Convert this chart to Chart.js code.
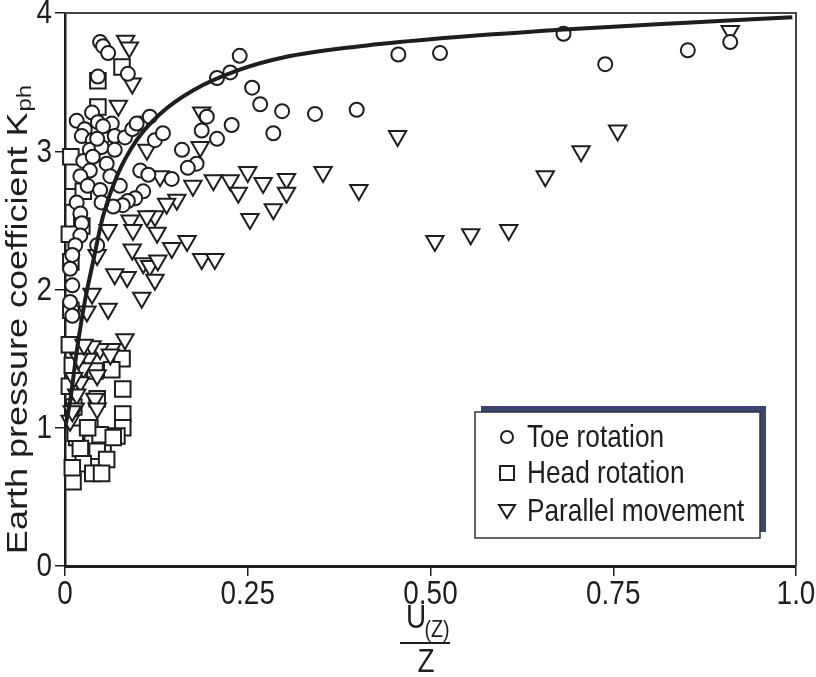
<!DOCTYPE html>
<html>
<head>
<meta charset="utf-8">
<script src="https://cdn.jsdelivr.net/npm/chart.js@4/dist/chart.umd.min.js"></script>
<style>
  html, body { margin: 0; padding: 0; background: #fff; }
</style>
</head>
<body>
<canvas id="chart" width="816" height="677"></canvas>
<script>
// values
const toeX = [0.048, 0.052, 0.059, 0.045, 0.086,
  0.239, 0.226, 0.208, 0.256, 0.267, 0.297, 0.342, 0.399, 0.285, 0.228, 0.208, 0.187, 0.194, 0.160, 0.180, 0.168,
  0.456, 0.513, 0.682, 0.739, 0.852, 0.910,
  0.016, 0.037, 0.027, 0.045, 0.064, 0.023, 0.038, 0.052, 0.068, 0.082, 0.092, 0.103, 0.116, 0.123, 0.134,
  0.034, 0.050, 0.068, 0.025, 0.038, 0.057, 0.034, 0.021, 0.062, 0.103, 0.114, 0.146, 0.031, 0.048, 0.075,
  0.107, 0.096, 0.086, 0.079, 0.016, 0.021, 0.066, 0.050, 0.023, 0.021, 0.014, 0.044, 0.010, 0.007, 0.010,
  0.007, 0.010, 0.052, 0.044, 0.098];
const toeY = [3.79, 3.76, 3.71, 3.54, 3.56,
  3.69, 3.57, 3.53, 3.46, 3.34, 3.29, 3.27, 3.30, 3.13, 3.19, 3.09, 3.15, 3.25, 3.01, 2.91, 2.88,
  3.70, 3.71, 3.85, 3.63, 3.73, 3.79,
  3.22, 3.28, 3.16, 3.21, 3.20, 3.11, 3.08, 3.10, 3.11, 3.10, 3.16, 3.20, 3.25, 3.08, 3.13,
  3.01, 3.03, 3.01, 2.93, 2.96, 2.91, 2.86, 2.82, 2.82, 2.86, 2.83, 2.80, 2.75, 2.72, 2.75,
  2.71, 2.66, 2.64, 2.61, 2.63, 2.55, 2.60, 2.63, 2.48, 2.39, 2.32, 2.32, 2.25, 2.15, 2.03,
  1.91, 1.81, 3.18, 3.09, 3.20];

const headX = [0.078, 0.045, 0.045, 0.008, 0.011, 0.025, 0.023, 0.008, 0.006, 0.008, 0.006,
  0.010, 0.006, 0.012,
  0.078, 0.064, 0.079, 0.079, 0.044, 0.041, 0.079, 0.071, 0.034, 0.048, 0.016, 0.052, 0.066,
  0.021, 0.044, 0.057, 0.025, 0.038, 0.050, 0.011, 0.010, 0.014, 0.031];
const headY = [3.61, 3.51, 3.32, 2.96, 2.67, 2.71, 2.46, 2.20, 2.40, 1.85, 1.60,
  1.45, 1.30, 1.15,
  1.50, 1.42, 1.28, 1.10, 1.21, 1.41, 1.00, 0.94, 1.00, 0.95, 0.93, 0.83, 0.93,
  0.85, 0.83, 0.77, 0.74, 0.67, 0.67, 0.61, 0.71, 0.96, 1.00];

const parX = [0.083, 0.088, 0.092, 0.073,
  0.187, 0.185, 0.203, 0.226, 0.250, 0.237, 0.271, 0.303, 0.303, 0.285, 0.253, 0.353, 0.402, 0.455,
  0.506, 0.555, 0.607, 0.657, 0.706, 0.756, 0.910,
  0.175, 0.187, 0.205, 0.167, 0.146, 0.153, 0.139, 0.130, 0.123, 0.126, 0.112, 0.112, 0.089, 0.093,
  0.092, 0.107, 0.116, 0.127, 0.123, 0.105, 0.085, 0.068, 0.059, 0.059, 0.044, 0.037, 0.030,
  0.082, 0.064, 0.048, 0.037, 0.044, 0.032, 0.025, 0.021, 0.016, 0.014, 0.062, 0.041, 0.044,
  0.007, 0.010, 0.012, 0.019, 0.026];
const parY = [3.80, 3.75, 3.49, 3.33,
  3.28, 3.03, 2.79, 2.79, 2.85, 2.70, 2.77, 2.80, 2.70, 2.58, 2.51, 2.85, 2.72, 3.11,
  2.35, 2.40, 2.43, 2.82, 3.00, 3.15, 3.87,
  2.75, 2.22, 2.22, 2.35, 2.30, 2.65, 2.62, 2.82, 2.53, 2.41, 2.53, 3.01, 2.50, 2.43,
  2.29, 2.19, 2.17, 2.21, 2.07, 1.94, 2.09, 2.11, 2.43, 1.86, 2.25, 1.97, 1.84,
  1.64, 1.57, 1.57, 1.59, 1.38, 1.50, 1.43, 1.33, 1.24, 1.14, 1.53, 1.21, 1.14,
  1.05, 1.12, 1.36, 1.50, 1.60];

const curveX = [0, 0.007, 0.016, 0.027, 0.038, 0.052, 0.071, 0.098, 0.13, 0.175, 0.239, 0.3, 0.404, 0.5, 0.683, 0.85, 0.995];
const curveY = [1.0, 1.19, 1.55, 1.91, 2.19, 2.53, 2.82, 3.08, 3.27, 3.44, 3.59, 3.68, 3.76, 3.81, 3.88, 3.93, 3.97];

const xTicks = [0, 0.25, 0.5, 0.75, 1.0];
const xTickLabels = ['0', '0.25', '0.50', '0.75', '1.0'];
const yTicks = [0, 1, 2, 3, 4];
const yTickLabels = ['0', '1', '2', '3', '4'];

const legendLabels = ['Toe rotation', 'Head rotation', 'Parallel movement'];

const pairs = (xs, ys) => xs.map((x, i) => ({ x, y: ys[i] }));

const INK = '#1e1e1e';
const SANS = '"Liberation Sans", Arial, sans-serif';
const SQUEEZE = 0.82; // the figure's text is horizontally compressed

// draw text squeezed horizontally around (x, y)
function squeezedText(ctx, text, x, y, size, align) {
  ctx.save();
  ctx.translate(x, y);
  ctx.scale(SQUEEZE, 1);
  ctx.font = size + 'px ' + SANS;
  ctx.textAlign = align || 'center';
  ctx.textBaseline = 'middle';
  ctx.fillStyle = INK;
  ctx.fillText(text, 0, 0);
  ctx.restore();
}

function marker(ctx, style, x, y) {
  ctx.save();
  ctx.lineWidth = 2;
  ctx.strokeStyle = INK;
  ctx.fillStyle = '#fff';
  ctx.beginPath();
  if (style === 'circle') {
    ctx.arc(x, y, 6, 0, Math.PI * 2);
  } else if (style === 'rect') {
    ctx.rect(x - 7, y - 7, 14, 14);
  } else {
    ctx.moveTo(x - 8, y - 6);
    ctx.lineTo(x + 8, y - 6);
    ctx.lineTo(x, y + 7);
    ctx.closePath();
  }
  ctx.fill();
  ctx.stroke();
  ctx.restore();
}

const decorPlugin = {
  id: 'decor',
  afterDraw(chart) {
    const ctx = chart.ctx;
    const a = chart.chartArea;
    const xs = chart.scales.x;
    const ys = chart.scales.y;

    // frame top and right
    ctx.save();
    ctx.strokeStyle = '#444';
    ctx.lineWidth = 2;
    ctx.beginPath();
    ctx.moveTo(a.left, a.top);
    ctx.lineTo(a.right, a.top);
    ctx.lineTo(a.right, a.bottom);
    ctx.stroke();
    ctx.restore();

    // tick labels, positioned by the scales
    xTicks.forEach((v, i) => squeezedText(ctx, xTickLabels[i], xs.getPixelForValue(v), a.bottom + 29, 34, 'center'));
    yTicks.forEach((v, i) => squeezedText(ctx, yTickLabels[i], a.left - 13, ys.getPixelForValue(v) + 1, 34, 'right'));

    // legend box with shadow
    ctx.save();
    ctx.fillStyle = '#3b4670';
    ctx.fillRect(481, 406, 285, 126);
    ctx.fillStyle = '#fff';
    ctx.fillRect(475, 412, 285, 126);
    ctx.strokeStyle = '#333';
    ctx.lineWidth = 1.5;
    ctx.strokeRect(475, 412, 285, 126);
    ctx.restore();
    const styles = ['circle', 'rect', 'triangle'];
    const rows = [437, 473, 511];
    legendLabels.forEach((t, i) => {
      marker(ctx, styles[i], 507, rows[i]);
      squeezedText(ctx, t, 527, rows[i] + 1, 32, 'left');
    });

    // y axis title, glyph height squeezed like the rest of the figure
    ctx.save();
    ctx.translate(19, 320);
    ctx.scale(SQUEEZE, 1);
    ctx.rotate(-Math.PI / 2);
    ctx.fillStyle = INK;
    ctx.textBaseline = 'middle';
    ctx.textAlign = 'left';
    const main = 'Earth pressure coefficient K';
    ctx.font = '36px ' + SANS;
    const wMain = ctx.measureText(main).width;
    ctx.font = '24px ' + SANS;
    const wSub = ctx.measureText('ph').width;
    const start = -(wMain + wSub) / 2;
    ctx.font = '36px ' + SANS;
    ctx.fillText(main, start, 0);
    ctx.font = '24px ' + SANS;
    ctx.fillText('ph', start + wMain + 1, 8);
    ctx.restore();

    // x axis title as a fraction
    squeezedText(ctx, 'U', 416, 619, 34, 'center');
    squeezedText(ctx, '(Z)', 437, 630, 24, 'center');
    ctx.save();
    ctx.fillStyle = INK;
    ctx.fillRect(400, 642, 50, 2);
    ctx.restore();
    squeezedText(ctx, 'Z', 426, 663, 34, 'center');
  }
};

new Chart(document.getElementById('chart'), {
  type: 'scatter',
  data: {
    datasets: [
      {
        label: 'curve',
        data: pairs(curveX, curveY),
        showLine: true,
        borderColor: INK,
        borderWidth: 4,
        pointRadius: 0,
        cubicInterpolationMode: 'monotone',
        order: 0
      },
      {
        label: legendLabels[0],
        data: pairs(toeX, toeY),
        pointStyle: 'circle',
        pointRadius: 7,
        pointBorderWidth: 2,
        pointBorderColor: INK,
        pointBackgroundColor: '#fff',
        clip: false,
        order: 1
      },
      {
        label: legendLabels[2],
        data: pairs(parX, parY),
        pointStyle: 'triangle',
        pointRotation: 180,
        pointRadius: 10,
        pointBorderWidth: 2,
        pointBorderColor: INK,
        pointBackgroundColor: '#fff',
        clip: false,
        order: 2
      },
      {
        label: legendLabels[1],
        data: pairs(headX, headY),
        pointStyle: 'rect',
        pointRadius: 11,
        pointBorderWidth: 2,
        pointBorderColor: INK,
        pointBackgroundColor: '#fff',
        clip: false,
        order: 3
      }
    ]
  },
  options: {
    responsive: false,
    animation: false,
    layout: { padding: { top: 9, right: 20, left: 0, bottom: 0 } },
    plugins: {
      legend: { display: false },
      tooltip: { enabled: false }
    },
    scales: {
      x: {
        type: 'linear',
        min: 0,
        max: 1,
        afterBuildTicks: s => { s.ticks = xTicks.map(v => ({ value: v })); },
        afterFit: s => { s.height = 111; s.paddingLeft = 0; s.paddingRight = 0; },
        ticks: { display: false },
        grid: { drawOnChartArea: false, drawTicks: true, tickLength: 10, color: INK, lineWidth: 1.5 },
        border: { display: true, color: INK, width: 3 }
      },
      y: {
        type: 'linear',
        min: 0,
        max: 4,
        afterBuildTicks: s => { s.ticks = yTicks.map(v => ({ value: v })); },
        afterFit: s => { s.width = 65; s.paddingTop = 0; s.paddingBottom = 0; },
        ticks: { display: false },
        grid: { drawOnChartArea: false, drawTicks: true, tickLength: 10, color: INK, lineWidth: 1.5 },
        border: { display: true, color: INK, width: 2.5 }
      }
    }
  },
  plugins: [decorPlugin]
});
</script>
</body>
</html>
